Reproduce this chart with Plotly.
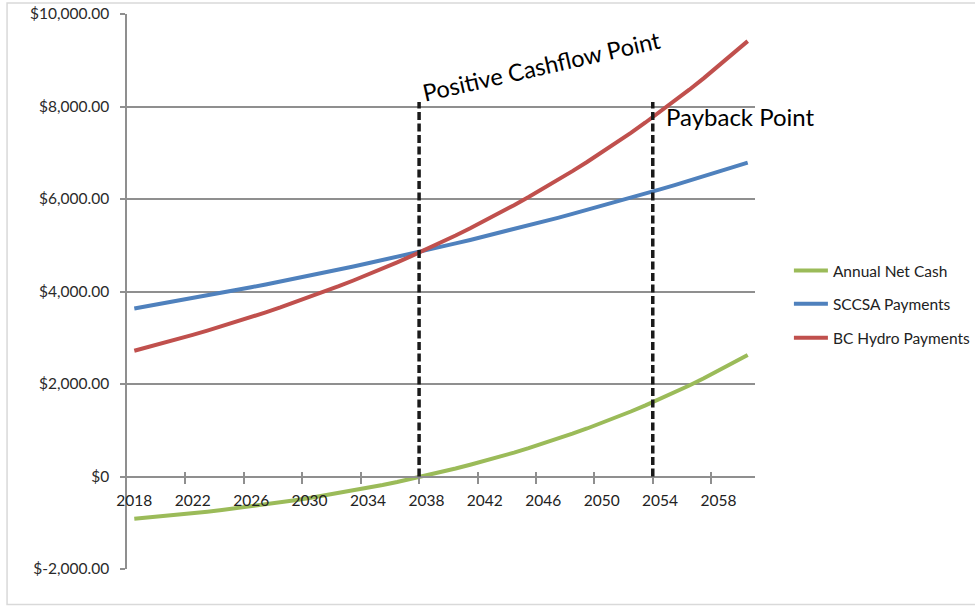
import plotly.graph_objects as go

years = list(range(2018, 2061))
annual_net_cash = [-912, -885, -856, -826, -794, -760, -724, -686, -646, -604,
                   -560, -513, -465, -413, -360, -303, -244, -183, -118, -50,
                   21, 95, 172, 253, 337, 425, 517, 613, 713, 817,
                   925, 1038, 1155, 1278, 1405, 1538, 1676, 1819, 1968, 2123,
                   2284, 2451, 2625]
sccsa_payments = [3632, 3687, 3742, 3798, 3855, 3913, 3971, 4031, 4092, 4153,
                  4215, 4278, 4343, 4408, 4474, 4541, 4609, 4678, 4748, 4820,
                  4892, 4965, 5040, 5115, 5192, 5270, 5349, 5429, 5511, 5593,
                  5677, 5762, 5849, 5937, 6026, 6116, 6208, 6301, 6395, 6491,
                  6589, 6688, 6788]
bc_hydro_payments = [2720, 2802, 2886, 2972, 3061, 3153, 3248, 3345, 3446, 3549,
                     3655, 3765, 3878, 3994, 4114, 4238, 4365, 4496, 4631, 4770,
                     4913, 5060, 5212, 5368, 5529, 5695, 5866, 6042, 6223, 6410,
                     6602, 6800, 7004, 7214, 7431, 7654, 7883, 8120, 8363, 8614,
                     8873, 9139, 9413]

y_tickvals = [-2000, 0, 2000, 4000, 6000, 8000, 10000]
y_ticktext = ["$-2,000.00", "$0", "$2,000.00", "$4,000.00", "$6,000.00", "$8,000.00", "$10,000.00"]
x_label_years = list(range(2018, 2059, 4))
x_tick_bounds = [y - 0.5 for y in range(2022, 2059, 4)]
marker_years = [2037.5, 2053.5]

FONT = "Lato, 'Open Sans', sans-serif"
GRID = "#8f8f8f"
xr = [2017.5, 2060.5]
yr = [-2000, 10000]
zero_pos = (0 - yr[0]) / (yr[1] - yr[0])

fig = go.Figure()
series = [
    ("Annual Net Cash", annual_net_cash, "#9BBB59", "legend"),
    ("SCCSA Payments", sccsa_payments, "#4F81BD", "legend2"),
    ("BC Hydro Payments", bc_hydro_payments, "#C0504D", "legend3"),
]
for name, vals, col, lg in series:
    fig.add_trace(go.Scatter(x=years, y=vals, mode="lines", name=name,
                             line=dict(color=col, width=4), legend=lg))

for my in marker_years:
    fig.add_shape(type="line", xref="x", yref="y", x0=my, x1=my, y0=0, y1=8100,
                  line=dict(color="#1a1a1a", width=3.5, dash="8px,3.5px"))

# outer chart border
fig.add_shape(type="rect", xref="paper", yref="paper", x0=-0.191, x1=1.45,
              y0=-0.064, y1=1.0198, line=dict(color="#d9d9d9", width=1.5),
              layer="below")

fig.add_annotation(x=2045.9, y=8865, xref="x", yref="y", text="Positive Cashflow Point",
                   showarrow=False, textangle=-12.8,
                   font=dict(family=FONT, size=23.5, color="#000000"))
fig.add_annotation(x=2054.3, y=7784, xref="x", yref="y", text="Payback Point",
                   showarrow=False, xanchor="left", yanchor="middle",
                   font=dict(family=FONT, size=24, color="#000000"))

legend_common = dict(xanchor="left", yanchor="middle", bgcolor="rgba(0,0,0,0)",
                     font=dict(family=FONT, size=15.5, color="#222222"),
                     itemwidth=34, tracegroupgap=0)
fig.update_layout(
    width=975, height=606,
    margin=dict(l=127, r=220, t=14, b=37, autoexpand=False),
    paper_bgcolor="white", plot_bgcolor="white",
    showlegend=True,
    legend=dict(x=1.054, y=0.537, **legend_common),
    legend2=dict(x=1.054, y=0.477, **legend_common),
    legend3=dict(x=1.054, y=0.416, **legend_common),
    xaxis=dict(range=xr, tickmode="array", tickvals=x_label_years,
               ticktext=[str(v) for v in x_label_years], ticks="",
               showgrid=False, zeroline=False, showline=True, linecolor=GRID,
               linewidth=1.5, anchor="free", position=zero_pos,
               ticklabelstandoff=10, automargin=False,
               tickfont=dict(family=FONT, size=15.5, color="#222222")),
    xaxis2=dict(range=xr, overlaying="x", anchor="free", position=zero_pos,
                tickmode="array", tickvals=x_tick_bounds, ticks="outside",
                ticklen=6, tickcolor=GRID, tickwidth=1.5, showticklabels=False,
                showgrid=False, zeroline=False, showline=False, automargin=False),
    xaxis3=dict(range=xr, overlaying="x", anchor="free", position=zero_pos,
                tickmode="array", tickvals=x_tick_bounds, ticks="inside",
                ticklen=5, tickcolor=GRID, tickwidth=1.5, showticklabels=False,
                showgrid=False, zeroline=False, showline=False, automargin=False),
    yaxis=dict(range=yr, tickmode="array", tickvals=y_tickvals, ticktext=y_ticktext,
               showgrid=True, gridcolor=GRID, gridwidth=1.5, zeroline=False,
               showline=True, linecolor=GRID, linewidth=1.5,
               ticks="outside", ticklen=5, tickcolor=GRID, tickwidth=1.5,
               ticklabelstandoff=8, automargin=False,
               tickfont=dict(family=FONT, size=15.5, color="#2a2a2a")),
)
# invisible traces to activate the overlay tick axes
fig.add_trace(go.Scatter(x=[2018], y=[0], xaxis="x2", mode="markers",
                         marker=dict(opacity=0), showlegend=False, hoverinfo="skip"))
fig.add_trace(go.Scatter(x=[2018], y=[0], xaxis="x3", mode="markers",
                         marker=dict(opacity=0), showlegend=False, hoverinfo="skip"))

fig.write_html("out.html")
